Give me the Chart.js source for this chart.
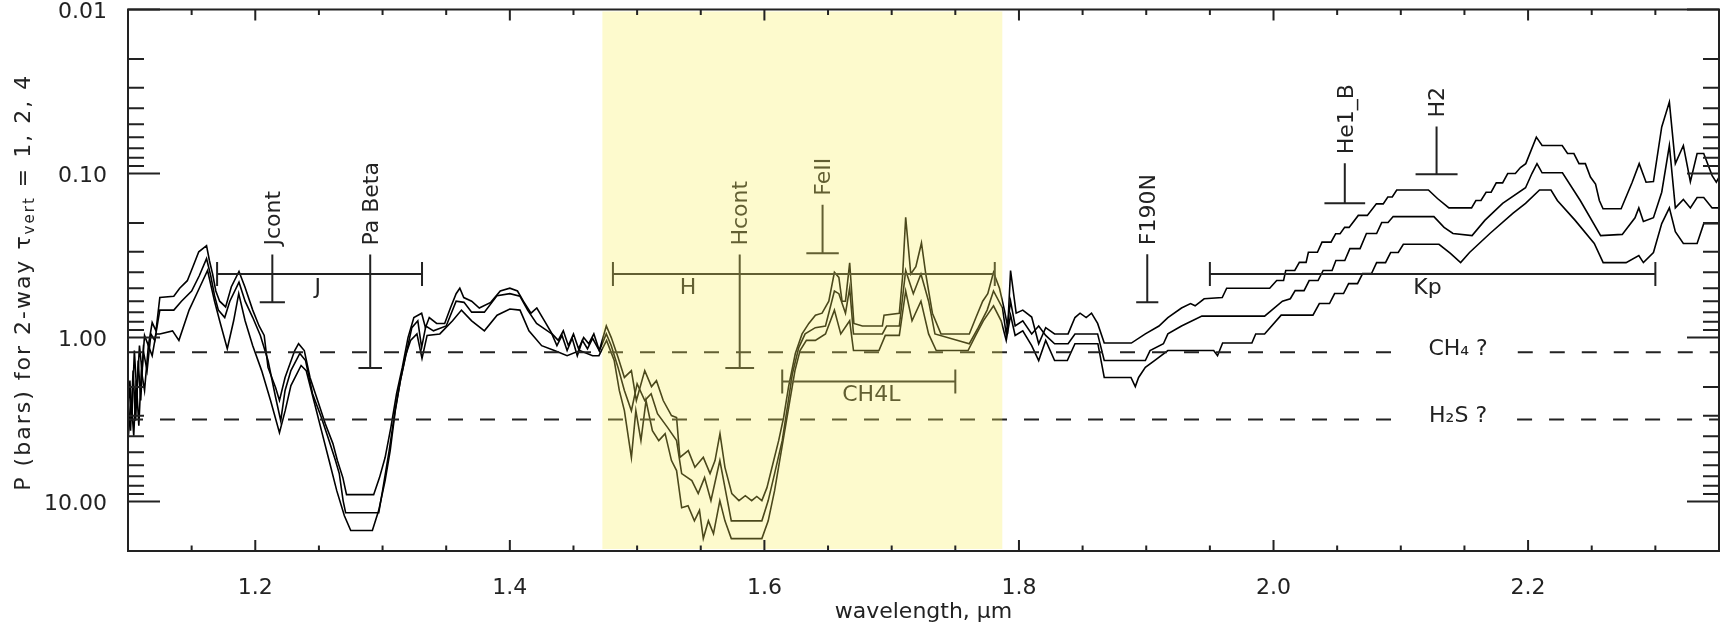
<!DOCTYPE html>
<html>
<head>
<meta charset="utf-8">
<title>P for 2-way tau</title>
<script src="https://cdn.jsdelivr.net/npm/chart.js@4.4.1/dist/chart.umd.min.js"></script>
<style>
  html, body { margin: 0; padding: 0; background: #fff; }
  canvas { display: block; }
</style>
</head>
<body>
<canvas id="myChart" width="1728" height="625"></canvas>
<script>
// pressure (bars) reached at 2-way tau = 1, 2, 4 versus wavelength (um)
const tau1Wl = [
  1.100, 1.1015, 1.103, 1.105, 1.107, 1.109, 1.111, 1.113, 1.116, 1.119, 1.122, 1.125,
  1.136, 1.1406, 1.1466, 1.151, 1.1556, 1.1617, 1.164, 1.1665, 1.169, 1.172, 1.1767, 1.1812, 1.1872, 1.1918, 1.198,
  1.203, 1.207, 1.21, 1.216, 1.219, 1.2234, 1.231, 1.234, 1.2385, 1.243, 1.249, 1.255, 1.261, 1.2645, 1.2688, 1.2717,
  1.293, 1.2976, 1.302, 1.3065, 1.311, 1.3155, 1.32, 1.3246, 1.3307,
  1.3337, 1.3367, 1.3425, 1.3488, 1.3533, 1.3578, 1.3607, 1.3638, 1.37, 1.376, 1.385, 1.3925, 1.40, 1.406, 1.4106, 1.4166, 1.4212, 1.4272, 1.4332,
  1.438, 1.442, 1.446, 1.450, 1.454, 1.458, 1.462, 1.466, 1.4703, 1.4758, 1.4797,
  1.485, 1.490, 1.4955, 1.4994, 1.506, 1.5113, 1.5152, 1.5205, 1.527, 1.531, 1.5336, 1.5402, 1.5454, 1.552, 1.5573, 1.5612, 1.5651, 1.569, 1.5744,
  1.580, 1.585, 1.590, 1.594, 1.598, 1.602, 1.6073, 1.6112, 1.6151, 1.619, 1.6243, 1.6296, 1.6349, 1.6401, 1.6453,
  1.6506, 1.655, 1.6585, 1.661, 1.6637, 1.667, 1.6703, 1.677, 1.6927, 1.694, 1.706, 1.7085, 1.711, 1.715, 1.719, 1.7234, 1.7268,
  1.732, 1.7387, 1.761, 1.7662, 1.7715, 1.7755, 1.78, 1.7847, 1.7886, 1.7912, 1.7934, 1.7978,
  1.803, 1.810, 1.8155, 1.821, 1.828, 1.8386, 1.844, 1.848, 1.8528, 1.857, 1.8618, 1.867, 1.8883, 1.8993, 1.91, 1.917, 1.9277, 1.9348,
  1.9384, 1.9455, 1.9597,
  1.9632, 1.997, 2.0025, 2.0079, 2.0096, 2.0167, 2.0203, 2.0256, 2.0274, 2.0345, 2.0381, 2.0452, 2.0488, 2.0523, 2.0559, 2.0594, 2.0666, 2.0737, 2.0808, 2.0862, 2.0898, 2.0933, 2.0968,
  2.1217, 2.1288, 2.1378, 2.1556,
  2.159, 2.163, 2.167, 2.171, 2.175, 2.18, 2.184, 2.19, 2.194, 2.1982,
  2.2065, 2.211, 2.2268, 2.231, 2.236, 2.24, 2.245, 2.249, 2.253, 2.256, 2.2589, 2.2731,
  2.2818, 2.2873, 2.2927, 2.2985, 2.305, 2.311, 2.3157, 2.322, 2.3275, 2.3328, 2.338, 2.3446, 2.3479, 2.354,
];
const tau1P = [
  3.21, 1.83, 3.21, 1.20, 2.26, 1.12, 1.59, 0.97, 1.12, 0.81, 0.91, 0.57,
  0.56, 0.50, 0.45, 0.37, 0.30, 0.275, 0.34, 0.41, 0.52, 0.60, 0.65, 0.49, 0.395, 0.49, 0.68,
  0.85, 0.97, 1.52, 2.02, 2.42, 1.75, 1.20, 1.09, 1.20, 1.75, 2.42, 3.35, 4.43, 5.62, 7.14, 9.07,
  9.07, 7.14, 5.39, 3.54, 2.20, 1.52, 1.00, 0.755, 0.71,
  0.87, 0.755, 0.82, 0.82, 0.66, 0.54, 0.50, 0.57, 0.60, 0.66, 0.61, 0.52, 0.50, 0.52, 0.60, 0.71, 0.66, 0.79, 0.95,
  1.04, 0.91, 1.12, 0.95, 1.17, 1.00, 1.09, 0.95, 1.20, 0.85, 1.00,
  1.32, 1.75, 1.59, 2.42, 1.59, 1.99, 1.83, 2.42, 2.99, 3.07, 5.37, 4.89, 6.18, 5.37, 6.75, 5.62, 3.85, 6.18, 8.94,
  9.86, 9.2, 9.86, 9.3, 9.86, 8.22, 5.62, 4.25, 3.07, 1.99, 1.25, 0.95, 0.82, 0.73, 0.71,
  0.60, 0.40, 0.43, 0.60, 0.60, 0.35, 0.82, 0.85, 0.85, 0.73, 0.71, 0.43, 0.185, 0.41, 0.37, 0.265, 0.41,
  0.71, 0.95, 0.95, 0.755, 0.60, 0.54, 0.40, 0.50, 0.68, 0.87, 0.39, 0.71,
  0.68, 0.75, 1.09, 0.87, 0.95, 0.95, 0.755, 0.71, 0.755, 0.71, 0.82, 1.08, 1.08, 0.95, 0.85, 0.755, 0.66, 0.62,
  0.64, 0.58, 0.57,
  0.50, 0.50, 0.449, 0.449, 0.39, 0.39, 0.348, 0.348, 0.302, 0.302, 0.262, 0.262, 0.233, 0.233, 0.213, 0.213, 0.180, 0.180, 0.153, 0.153, 0.139, 0.139, 0.126,
  0.126, 0.142, 0.162, 0.162,
  0.146, 0.146, 0.130, 0.130, 0.114, 0.114, 0.100, 0.100, 0.092, 0.087,
  0.060, 0.0675, 0.0675, 0.0755, 0.0755, 0.087, 0.087, 0.105, 0.116, 0.146, 0.164, 0.164,
  0.113, 0.087, 0.113, 0.112, 0.052, 0.0367, 0.087, 0.0675, 0.112, 0.0755, 0.0755, 0.103, 0.113, 0.092,
];

const tau2Wl = [
  1.100, 1.102, 1.104, 1.106, 1.108, 1.110, 1.112, 1.115, 1.118, 1.121, 1.125,
  1.136, 1.142, 1.150, 1.156, 1.1617, 1.165, 1.168, 1.171, 1.176, 1.180, 1.1872, 1.192, 1.198,
  1.204, 1.21, 1.216, 1.220, 1.2234, 1.228, 1.235, 1.2395, 1.245, 1.252, 1.258, 1.263, 1.266, 1.269, 1.271,
  1.297, 1.300, 1.3052, 1.3098, 1.314, 1.3186, 1.323, 1.3277, 1.3307,
  1.334, 1.34, 1.35, 1.3578, 1.364, 1.37, 1.38, 1.39, 1.40, 1.408, 1.414, 1.421, 1.433,
  1.437, 1.441, 1.445, 1.449, 1.453, 1.457, 1.461, 1.465, 1.4703, 1.4758, 1.4797,
  1.485, 1.490, 1.4955, 1.500, 1.506, 1.511, 1.516, 1.524, 1.531, 1.535, 1.543, 1.548, 1.553, 1.558, 1.565, 1.569, 1.574,
  1.598, 1.603, 1.608, 1.614, 1.618, 1.622, 1.627, 1.632, 1.640, 1.648,
  1.655, 1.6585, 1.6637, 1.667, 1.670, 1.6927, 1.696, 1.706, 1.711, 1.717, 1.723, 1.729, 1.734,
  1.761, 1.768, 1.775, 1.78, 1.787, 1.79, 1.7934, 1.797,
  1.803, 1.81, 1.8155, 1.821, 1.828, 1.8386, 1.844, 1.8618, 1.867, 1.8993, 1.903, 1.9135, 1.917, 1.9277, 1.9437, 1.993,
  2.007, 2.0132, 2.017, 2.024, 2.028, 2.035, 2.039, 2.046, 2.049, 2.056, 2.060, 2.068, 2.073, 2.081, 2.085, 2.090, 2.094,
  2.126, 2.134, 2.141, 2.156,
  2.166, 2.18, 2.198, 2.203, 2.207, 2.211, 2.227, 2.241, 2.257, 2.274, 2.284, 2.287, 2.2906, 2.2985, 2.305, 2.311, 2.3157, 2.322, 2.3275, 2.3328, 2.338, 2.3446, 2.3505, 2.354,
];
const tau2P = [
  2.42, 3.69, 1.59, 3.21, 1.38, 2.42, 1.20, 1.59, 0.95, 1.04, 0.68,
  0.68, 0.60, 0.52, 0.42, 0.33, 0.42, 0.555, 0.68, 0.755, 0.60, 0.46, 0.60, 0.755,
  0.97, 1.38, 2.32, 3.21, 2.10, 1.59, 1.25, 1.38, 2.20, 3.08, 4.25, 5.62, 6.75, 9.86, 11.7,
  11.7, 8.57, 4.89, 2.79, 1.83, 1.25, 0.87, 0.79, 1.15,
  0.85, 0.91, 0.85, 0.60, 0.61, 0.70, 0.70, 0.555, 0.54, 0.56, 0.68, 0.82, 0.95,
  1.12, 0.97, 1.20, 1.01, 1.29, 1.04, 1.17, 1.01, 1.20, 0.95, 1.12,
  1.52, 2.10, 2.79, 1.91, 2.42, 2.20, 2.91, 3.54, 4.25, 6.75, 7.45, 8.94, 7.14, 9.86, 5.62, 8.22, 13.1,
  13.1, 9.86, 6.75, 4.25, 2.67, 1.66, 1.15, 0.95, 0.87, 0.85,
  0.52, 0.54, 0.71, 0.50, 0.95, 0.95, 0.85, 0.85, 0.39, 0.54, 0.41, 0.60, 0.95,
  1.09, 0.87, 0.68, 0.52, 0.66, 0.95, 0.60, 0.85,
  0.79, 0.95, 0.85, 0.97, 1.09, 1.09, 0.95, 0.95, 1.38, 1.38, 1.20, 1.09, 0.95, 0.85, 0.74, 0.74,
  0.60, 0.58, 0.517, 0.517, 0.449, 0.449, 0.39, 0.39, 0.339, 0.339, 0.287, 0.287, 0.232, 0.232, 0.199, 0.199, 0.183,
  0.183, 0.213, 0.232, 0.239,
  0.193, 0.152, 0.122, 0.100, 0.087, 0.099, 0.099, 0.146, 0.239, 0.235, 0.186, 0.162, 0.196, 0.186, 0.13, 0.0675, 0.162, 0.144, 0.162, 0.140, 0.140, 0.162, 0.162, 0.138,
];

const tau4Wl = [
  1.100, 1.1025, 1.1045, 1.1065, 1.1085, 1.1105, 1.113, 1.116, 1.119, 1.122, 1.125,
  1.135, 1.14, 1.148, 1.155, 1.1625, 1.168, 1.172, 1.178, 1.183, 1.187, 1.192, 1.198,
  1.205, 1.212, 1.219, 1.2235, 1.228, 1.236, 1.24, 1.246, 1.252, 1.258, 1.264, 1.27, 1.275,
  1.292, 1.297, 1.302, 1.306, 1.31, 1.314, 1.318, 1.322, 1.327, 1.331, 1.335,
  1.345, 1.355, 1.362, 1.37, 1.38, 1.39, 1.40, 1.408, 1.415, 1.425, 1.435, 1.445, 1.455, 1.465, 1.47,
  1.476, 1.482, 1.486, 1.49, 1.4955, 1.499, 1.503, 1.507, 1.512, 1.517, 1.522, 1.527, 1.531, 1.535, 1.54, 1.545, 1.549, 1.552, 1.556, 1.56, 1.565, 1.569, 1.574,
  1.598, 1.603, 1.608, 1.612, 1.616, 1.62, 1.624, 1.628, 1.633, 1.64, 1.648,
  1.655, 1.66, 1.667, 1.67, 1.69, 1.695, 1.706, 1.711, 1.716, 1.723, 1.729, 1.735,
  1.76, 1.766, 1.772, 1.78, 1.786, 1.79, 1.7934, 1.797,
  1.803, 1.81, 1.8155, 1.821, 1.828, 1.838, 1.844, 1.862, 1.867, 1.888, 1.8914, 1.894, 1.8993, 1.9065, 1.917, 1.953, 1.956, 1.96, 1.983, 1.986, 1.993,
  2.006, 2.031, 2.036, 2.044, 2.048, 2.055, 2.059, 2.066, 2.07, 2.077, 2.081, 2.088, 2.092, 2.098, 2.102,
  2.13, 2.139, 2.147, 2.154,
  2.17, 2.188, 2.198, 2.209, 2.218, 2.223, 2.237, 2.252, 2.259, 2.277, 2.287, 2.2906, 2.2985, 2.305, 2.311, 2.3157, 2.322, 2.3328, 2.338, 2.3446, 2.3505, 2.354,
];
const tau4P = [
  4.25, 2.42, 3.96, 1.83, 3.44, 1.59, 2.10, 1.12, 1.29, 0.95, 0.95,
  0.91, 1.04, 0.68, 0.52, 0.39, 0.60, 0.79, 1.17, 0.79, 0.54, 0.79, 1.12,
  1.59, 2.42, 3.80, 2.79, 1.96, 1.48, 1.59, 2.42, 3.69, 5.62, 8.57, 12.2, 15.0,
  15.0, 11.3, 7.45, 4.89, 2.79, 1.83, 1.29, 1.04, 0.95, 1.34, 0.97,
  0.95, 0.79, 0.68, 0.79, 0.91, 0.73, 0.67, 0.68, 0.91, 1.12, 1.20, 1.29, 1.20, 1.29, 1.29,
  1.04, 1.38, 2.10, 2.79, 5.39, 2.79, 4.25, 2.42, 3.69, 4.25, 3.85, 5.62, 6.47, 10.9, 10.6, 13.1, 11.3, 16.8, 13.1, 15.7, 9.86, 13.1, 16.8,
  16.8, 13.1, 8.57, 5.62, 3.69, 2.42, 1.59, 1.20, 1.04, 1.04, 0.95,
  0.68, 0.95, 0.79, 1.20, 1.20, 0.97, 0.97, 0.52, 0.79, 0.60, 0.95, 1.20,
  1.20, 0.97, 0.79, 0.64, 0.79, 1.04, 0.73, 0.97,
  0.91, 1.12, 1.38, 1.04, 1.38, 1.38, 1.09, 1.09, 1.75, 1.75, 1.99, 1.75, 1.52, 1.38, 1.20, 1.20, 1.29, 1.08, 1.08, 0.95, 0.95,
  0.73, 0.73, 0.62, 0.62, 0.539, 0.539, 0.469, 0.469, 0.407, 0.407, 0.349, 0.349, 0.303, 0.303, 0.27,
  0.27, 0.307, 0.349, 0.303,
  0.232, 0.175, 0.152, 0.126, 0.126, 0.146, 0.193, 0.267, 0.349, 0.349, 0.316, 0.349, 0.303, 0.202, 0.162, 0.226, 0.267, 0.267, 0.202, 0.202, 0.202, 0.18,
];

const xTickLabels = [1.2, 1.4, 1.6, 1.8, 2.0, 2.2];
const yTickLabels = [0.01, 0.1, 1, 10];

// broad filters: horizontal bar with end caps
const bandNames = ['J', 'H', 'Kp', 'CH4L'];
const bandStart = [1.170, 1.481, 1.950, 1.614];
const bandEnd = [1.331, 1.781, 2.300, 1.750];
const bandLevel = [0.41, 0.41, 0.41, 1.85];
const bandLabelAt = [1.249, 1.540, 2.121, 1.684];

// narrow filters: vertical stem, cap as wide as the filter
const lineNames = ['Jcont', 'Pa Beta', 'Hcont', 'FeII', 'F190N', 'He1_B', 'H2'];
const lineCenter = [1.2134, 1.2903, 1.5806, 1.6457, 1.9008, 2.0560, 2.1281];
const lineWidthUm = [0.0198, 0.0185, 0.0226, 0.0255, 0.0174, 0.0320, 0.0330];
const lineTop = [0.312, 0.312, 0.312, 0.155, 0.31, 0.0865, 0.0517];
const lineBottom = [0.609, 1.53, 1.53, 0.306, 0.609, 0.152, 0.101];

const gasNames = ['CH₄ ?', 'H₂S ?'];
const gasLevel = [1.23, 3.16];
const gasLabelAt = 2.145;

const filterShade = [1.4727, 1.7869];

const ink = '#222';
const fontFamily = '"DejaVu Sans"';

const toPoints = (wl, p) => wl.map((w, i) => ({ x: w, y: p[i] }));

const overlays = {
  id: 'overlays',
  afterDatasetsDraw(chart) {
    const { ctx, chartArea: area, scales: { x, y } } = chart;
    ctx.save();
    ctx.font = `22px ${fontFamily}`;
    ctx.fillStyle = ink;
    ctx.strokeStyle = ink;
    ctx.lineWidth = 2;
    ctx.textAlign = 'center';
    ctx.textBaseline = 'middle';

    // cloud levels, broken around their labels
    gasLevel.forEach((p, i) => {
      const py = y.getPixelForValue(p);
      const px = x.getPixelForValue(gasLabelAt);
      const half = ctx.measureText(gasNames[i]).width / 2 + 30;
      ctx.setLineDash([15, 17]);
      ctx.beginPath();
      ctx.moveTo(area.left, py);
      ctx.lineTo(px - half, py);
      ctx.moveTo(px + half, py);
      ctx.lineTo(area.right, py);
      ctx.stroke();
      ctx.setLineDash([]);
      ctx.fillText(gasNames[i], px, py - 3);
    });

    bandNames.forEach((name, i) => {
      const x1 = x.getPixelForValue(bandStart[i]);
      const x2 = x.getPixelForValue(bandEnd[i]);
      const py = y.getPixelForValue(bandLevel[i]);
      ctx.beginPath();
      ctx.moveTo(x1, py);
      ctx.lineTo(x2, py);
      ctx.moveTo(x1, py - 12);
      ctx.lineTo(x1, py + 12);
      ctx.moveTo(x2, py - 12);
      ctx.lineTo(x2, py + 12);
      ctx.stroke();
      ctx.fillText(name, x.getPixelForValue(bandLabelAt[i]), py + 14);
    });

    lineNames.forEach((name, i) => {
      const px = x.getPixelForValue(lineCenter[i]);
      const y1 = y.getPixelForValue(lineTop[i]);
      const y2 = y.getPixelForValue(lineBottom[i]);
      const xa = x.getPixelForValue(lineCenter[i] - lineWidthUm[i] / 2);
      const xb = x.getPixelForValue(lineCenter[i] + lineWidthUm[i] / 2);
      ctx.beginPath();
      ctx.moveTo(px, y1);
      ctx.lineTo(px, y2);
      ctx.moveTo(xa, y2);
      ctx.lineTo(xb, y2);
      ctx.stroke();
      ctx.save();
      ctx.translate(px + 2, y1 - 9);
      ctx.rotate(-Math.PI / 2);
      ctx.textAlign = 'left';
      ctx.fillText(name, 0, 0);
      ctx.restore();
    });

    // translucent highlight over the H window
    const s1 = x.getPixelForValue(filterShade[0]);
    const s2 = x.getPixelForValue(filterShade[1]);
    ctx.fillStyle = 'rgba(248, 238, 90, 0.3)';
    ctx.fillRect(s1, area.top + 2, s2 - s1, area.bottom - area.top - 4);
    ctx.restore();
  },
  afterDraw(chart) {
    const { ctx, chartArea: area, scales: { x, y } } = chart;
    ctx.save();
    ctx.strokeStyle = ink;
    ctx.lineWidth = 2;
    ctx.strokeRect(area.left, area.top, area.right - area.left, area.bottom - area.top);

    // inward ticks on all four sides
    ctx.beginPath();
    for (let i = 23; i <= 47; i++) {
      const px = x.getPixelForValue(i * 0.05);
      const len = i % 4 === 0 ? 11 : 5.5;
      ctx.moveTo(px, area.bottom);
      ctx.lineTo(px, area.bottom - len);
      ctx.moveTo(px, area.top);
      ctx.lineTo(px, area.top + len);
    }
    for (let d = -2; d <= 1; d++) {
      for (let m = 1; m <= 9; m++) {
        const v = m * Math.pow(10, d);
        if (v > y.max) continue;
        const py = y.getPixelForValue(v);
        const len = m === 1 ? 32 : 16;
        ctx.moveTo(area.left, py);
        ctx.lineTo(area.left + len, py);
        ctx.moveTo(area.right, py);
        ctx.lineTo(area.right - len, py);
      }
    }
    ctx.stroke();

    // y title with subscript
    const main = `22px ${fontFamily}`;
    const small = `15px ${fontFamily}`;
    const head = 'P (bars) for 2-way τ';
    const sub = 'vert';
    const tail = ' = 1, 2, 4';
    ctx.fillStyle = ink;
    ctx.letterSpacing = '2px';
    ctx.font = main;
    const w1 = ctx.measureText(head).width;
    const w3 = ctx.measureText(tail).width;
    ctx.font = small;
    const w2 = ctx.measureText(sub).width;
    ctx.translate(24, (area.top + area.bottom) / 2 + 2);
    ctx.rotate(-Math.PI / 2);
    ctx.textAlign = 'left';
    ctx.textBaseline = 'middle';
    let cx = -(w1 + w2 + w3) / 2;
    ctx.font = main;
    ctx.fillText(head, cx, 0);
    cx += w1;
    ctx.font = small;
    ctx.fillText(sub, cx, 6);
    cx += w2;
    ctx.font = main;
    ctx.fillText(tail, cx, 0);
    ctx.restore();
  },
};

const curve = (wl, p) => ({
  data: toPoints(wl, p),
  borderColor: '#000',
  borderWidth: 1.6,
  pointRadius: 0,
  tension: 0,
  fill: false,
});

const config = {
  type: 'line',
  data: {
    datasets: [curve(tau1Wl, tau1P), curve(tau2Wl, tau2P), curve(tau4Wl, tau4P)],
  },
  options: {
    responsive: false,
    animation: false,
    devicePixelRatio: 1,
    parsing: false,
    layout: { padding: { top: 9.5, right: 9, bottom: 0, left: 0 } },
    scales: {
      x: {
        type: 'linear',
        min: 1.1,
        max: 2.35,
        grid: { display: false },
        border: { display: false },
        ticks: {
          autoSkip: false,
          maxRotation: 0,
          minRotation: 0,
          padding: 16,
          color: ink,
          font: { family: 'DejaVu Sans', size: 22 },
          callback: (v) => Number(v).toFixed(1),
        },
        afterBuildTicks: (scale) => {
          scale.ticks = xTickLabels.map((v) => ({ value: v }));
        },
        afterFit: (scale) => {
          scale.height = 74;
          scale.paddingLeft = 0;
          scale.paddingRight = 0;
        },
        title: {
          display: true,
          text: 'wavelength, µm',
          color: ink,
          font: { family: 'DejaVu Sans', size: 22 },
          padding: { top: 0, bottom: 0 },
        },
      },
      y: {
        type: 'logarithmic',
        min: 0.01,
        max: 20,
        reverse: true,
        grid: { display: false },
        border: { display: false },
        ticks: {
          autoSkip: false,
          padding: 13,
          labelOffset: 3,
          color: ink,
          font: { family: 'DejaVu Sans', size: 22 },
          callback: (v) => Number(v).toFixed(2),
        },
        afterBuildTicks: (scale) => {
          scale.ticks = yTickLabels.map((v) => ({ value: v }));
        },
        afterFit: (scale) => {
          scale.width = 128;
          scale.paddingTop = 0;
          scale.paddingBottom = 0;
        },
      },
    },
    plugins: {
      legend: { display: false },
      tooltip: { enabled: false },
    },
  },
  plugins: [overlays],
};

const myChart = new Chart(document.getElementById('myChart'), config);
</script>
</body>
</html>
